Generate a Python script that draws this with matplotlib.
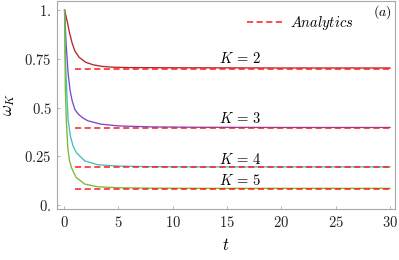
import matplotlib
matplotlib.use('Agg')
import matplotlib.pyplot as plt
from matplotlib.lines import Line2D

plt.rcParams['mathtext.fontset'] = 'cm'
plt.rcParams['font.family'] = 'DejaVu Serif'

# values
t2 = [0.05, 0.3, 0.5, 0.75, 1.0, 1.4, 2.0, 2.7, 3.5, 4.5, 6, 10, 20, 30]
w2 = [1.0, 0.94, 0.885, 0.83, 0.79, 0.757, 0.732, 0.719, 0.711, 0.707, 0.705, 0.704, 0.703, 0.703]

t3 = [0.05, 0.2, 0.37, 0.55, 0.75, 1.0, 1.3, 1.7, 2.2, 3.4, 5, 8, 12.5, 20, 30]
w3 = [1.0, 0.82, 0.68, 0.59, 0.535, 0.49, 0.467, 0.448, 0.432, 0.415, 0.406, 0.401, 0.399, 0.398, 0.398]

t4 = [0.05, 0.15, 0.28, 0.37, 0.6, 0.85, 1.15, 1.9, 3.1, 5, 8, 12.5, 20, 30]
w4 = [1.0, 0.72, 0.55, 0.44, 0.35, 0.30, 0.268, 0.227, 0.207, 0.200, 0.197, 0.196, 0.196, 0.196]

t5 = [0.05, 0.12, 0.2, 0.35, 0.5, 0.7, 1.1, 1.9, 3.1, 5, 8, 12.5, 20, 30]
w5 = [1.0, 0.6, 0.45, 0.29, 0.23, 0.19, 0.143, 0.108, 0.094, 0.089, 0.087, 0.086, 0.086, 0.086]

analytic = [0.70, 0.395, 0.193, 0.082]
t_an = [1, 30]
labels = [r'$K\,=\,2$', r'$K\,=\,3$', r'$K\,=\,4$', r'$K\,=\,5$']
label_y = [0.75, 0.446, 0.236, 0.127]

curves = [(t2, w2, '#B5262A'), (t3, w3, '#7A48C8'), (t4, w4, '#45BDBE'), (t5, w5, '#7AB834')]

fig = plt.figure(figsize=(3.99, 2.60), dpi=100)
ax = fig.add_axes([0.143, 0.196, 0.847, 0.8])

for (t, w, c) in curves:
    ax.plot(t, w, color=c, lw=0.95)

for a in analytic:
    ax.plot(t_an, [a, a], color='#FF1A1A', lw=1.1, dashes=(4, 2.3))

for lab, y in zip(labels, label_y):
    ax.text(16.2, y, lab, fontsize=10.5, ha='center', va='center')

ax.set_xlim(-0.64, 30.45)
ax.set_ylim(-0.02, 1.046)
ax.set_xticks([0, 5, 10, 15, 20, 25, 30])
ax.set_xticklabels(['$%d$' % v for v in [0, 5, 10, 15, 20, 25, 30]])
ax.set_yticks([0, 0.25, 0.5, 0.75, 1.0])
ax.set_yticklabels(['$0.$', '$0.25$', '$0.5$', '$0.75$', '$1.$'])

for s in ax.spines.values():
    s.set_color('#A8A8A8')
    s.set_linewidth(0.8)
ax.tick_params(direction='in', length=2.5, width=0.6, color='#A8A8A8',
               labelsize=10.5, labelcolor='#222222')
ax.tick_params(axis='y', pad=4)
ax.tick_params(axis='x', pad=4)

ax.set_xlabel('$t$', fontsize=12, labelpad=5)
ax.set_ylabel(r'$\omega_K$', fontsize=12, labelpad=5)

h = Line2D([], [], color='#FF1A1A', lw=1.1, dashes=(4, 2.3))
ax.legend([h], [r'$\mathit{Analytics}$'], loc='upper right', frameon=False,
          fontsize=10.5, handlelength=2.6, handletextpad=0.3,
          bbox_to_anchor=(0.915, 1.0))
ax.text(0.99, 0.945, '$(a)$', transform=ax.transAxes, fontsize=10,
        ha='right', va='center')

fig.savefig('out.png', dpi=100)
